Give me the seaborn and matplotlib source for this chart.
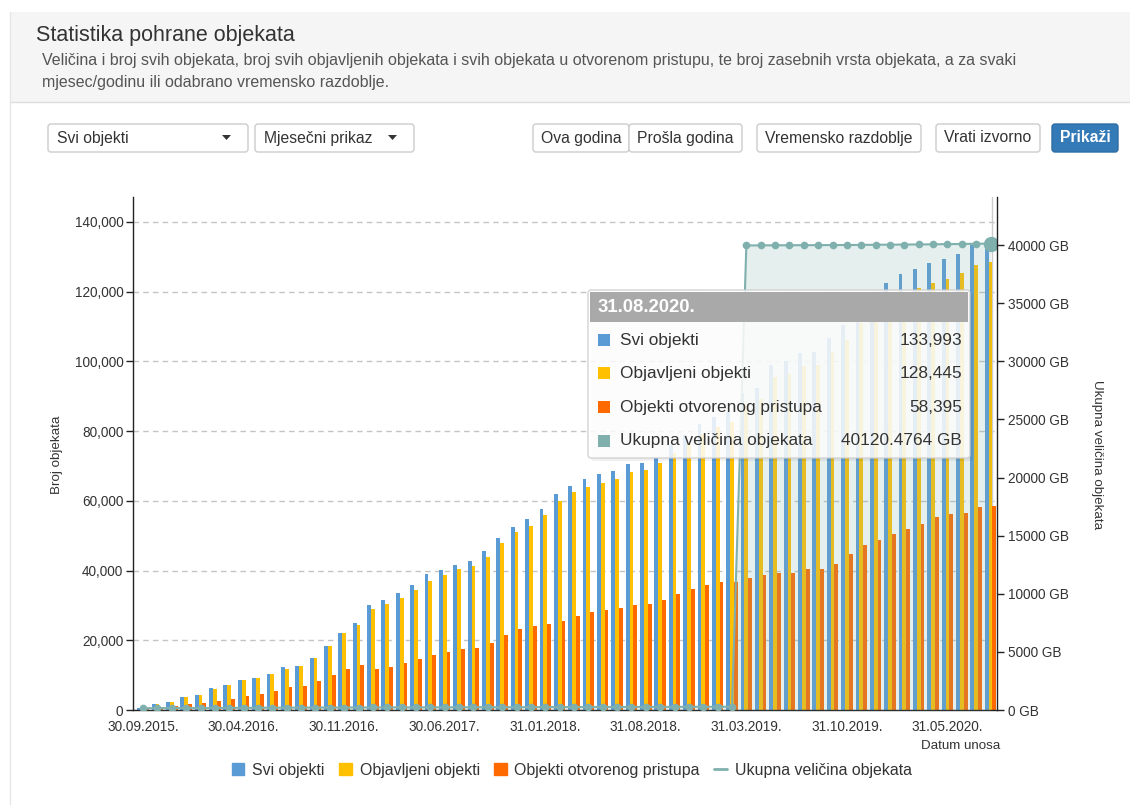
import pandas as pd
import seaborn as sns
import matplotlib.pyplot as plt
from matplotlib.patches import Rectangle, FancyBboxPatch, Polygon, Patch
from matplotlib.lines import Line2D

# podaci ocitani sa slike (mjesecno, 30.09.2015. - 31.08.2020.)
datumi = pd.date_range("2015-09-30", periods=60, freq="ME").strftime("%d.%m.%Y.").tolist()

svi_objekti = [700, 1600, 2400, 3600, 4300, 6200, 7300, 8500, 9200, 10400,
               12300, 12700, 15000, 18400, 22200, 25000, 30100, 31600, 33600, 35900,
               38900, 40100, 41600, 42800, 45500, 49300, 52400, 54700, 57800, 62000,
               64300, 66200, 67800, 68500, 70500, 70800, 72400, 76000, 79000, 82000,
               84000, 85500, 91000, 92400, 99000, 100000, 102400, 102800, 106700, 110500,
               115600, 118200, 122500, 125100, 126600, 128200, 129400, 130900, 133400, 133993]

objavljeni = [500, 1600, 2400, 3600, 4300, 6100, 7300, 8500, 9200, 10400,
              11900, 12600, 15000, 18300, 22100, 24500, 29000, 30500, 32000, 34300,
              37000, 38600, 40500, 41200, 43900, 47800, 51200, 52800, 55800, 60100,
              62400, 63900, 65100, 66200, 68200, 68900, 70800, 73800, 76500, 79300,
              81200, 82600, 87800, 89200, 95400, 96300, 98600, 99000, 102600, 106200,
              111000, 113600, 117500, 119800, 121200, 122500, 123700, 125300, 127700, 128445]

otvoreni = [300, 800, 1200, 1600, 2000, 2700, 3100, 3900, 4600, 5400,
            6500, 6900, 8400, 10000, 11900, 13000, 11700, 12400, 13600, 14700,
            15900, 16700, 17400, 17800, 19300, 21600, 23200, 24000, 24700, 25500,
            27000, 28100, 28600, 29300, 30100, 30500, 31600, 33200, 34700, 35900,
            36600, 36600, 37800, 38600, 39300, 39300, 40500, 40500, 42000, 44700,
            47400, 48900, 50500, 52000, 53500, 55400, 56200, 56600, 58100, 58395]

velicina_gb = [150, 160, 165, 170, 175, 180, 185, 190, 195, 200,
               205, 205, 210, 210, 215, 215, 220, 220, 225, 225,
               230, 230, 235, 235, 240, 240, 245, 245, 250, 250,
               255, 255, 260, 260, 265, 265, 270, 270, 275, 275,
               280, 280, 39960, 39970, 39975, 39980, 39985, 39990, 39995, 40000,
               40010, 40020, 40030, 40040, 40050, 40060, 40075, 40090, 40105, 40120.4764]

serije = ["Svi objekti", "Objavljeni objekti", "Objekti otvorenog pristupa"]
boje = ["#5b9bd5", "#ffc000", "#ff6a00"]
serija_velicina = "Ukupna veličina objekata"
boja_velicina = "#7fb0ad"

y_ticks = [0, 20000, 40000, 60000, 80000, 100000, 120000, 140000]
y_tick_labels = ["0", "20,000", "40,000", "60,000", "80,000", "100,000", "120,000", "140,000"]
gb_ticks = [0, 5000, 10000, 15000, 20000, 25000, 30000, 35000, 40000]
gb_tick_labels = [f"{v} GB" for v in gb_ticks]
oznaceni = [0, 7, 14, 21, 28, 35, 42, 49, 56]

df = pd.DataFrame({
    "datum": datumi * 3,
    "serija": [s for s in serije for _ in datumi],
    "broj": svi_objekti + objavljeni + otvoreni,
})

sns.set_theme(style="white")
plt.rcParams["font.family"] = ["Liberation Sans", "DejaVu Sans"]

W, H = 1130, 805
fig = plt.figure(figsize=(W / 100, H / 100), dpi=100)
fig.patch.set_facecolor("white")

# pozadina (zaglavlje i kontrole) u pikselima
bg = fig.add_axes([0, 0, 1, 1])
bg.set_xlim(0, W)
bg.set_ylim(H, 0)
bg.axis("off")
bg.set_zorder(-1)

bg.add_patch(Rectangle((10, 12), W, 90, fc="#f5f5f5", ec="none"))
bg.plot([10, W], [102, 102], color="#dddddd", lw=1)
bg.plot([10, 10], [12, H], color="#e6e6e6", lw=1)
bg.text(36, 35, "Statistika pohrane objekata", fontsize=15.5, color="#333333", va="center")
bg.text(42, 60, "Veličina i broj svih objekata, broj svih objavljenih objekata i svih objekata u otvorenom "
        "pristupu, te broj zasebnih vrsta objekata, a za svaki", fontsize=11.5, color="#555555", va="center")
bg.text(42, 82, "mjesec/godinu ili odabrano vremensko razdoblje.", fontsize=11.5, color="#555555", va="center")


def gumb(x0, x1, tekst, fc="white", ec="#cccccc", tc="#333333", lijevo=False, strelica=False):
    bg.add_patch(FancyBboxPatch((x0, 124), x1 - x0, 28, boxstyle="round,pad=0,rounding_size=3",
                                fc=fc, ec=ec, lw=1))
    if lijevo:
        bg.text(x0 + 9, 138, tekst, fontsize=11.3, color=tc, va="center")
    else:
        bg.text((x0 + x1) / 2, 138, tekst, fontsize=11.3, color=tc, va="center", ha="center",
                fontweight="bold" if fc != "white" else "normal")
    if strelica:
        bg.add_patch(Polygon([(x1 - 26, 135), (x1 - 17, 135), (x1 - 21.5, 140)], closed=True,
                             fc="#333333", ec="none"))


gumb(48, 248, "Svi objekti", lijevo=True, strelica=True)
gumb(255, 414, "Mjesečni prikaz", lijevo=True, strelica=True)
gumb(533, 629, "Ova godina")
gumb(629, 742, "Prošla godina")
gumb(757, 921, "Vremensko razdoblje")
gumb(936, 1040, "Vrati izvorno")
gumb(1052, 1118, "Prikaži", fc="#337ab7", ec="#2e6da4", tc="white")

# glavni graf
ax = fig.add_axes([133 / W, (H - 710) / H, 864 / W, 513 / H])
sns.barplot(data=df, x="datum", y="broj", hue="serija", hue_order=serije, palette=boje,
            width=0.8, saturation=1, errorbar=None, legend=False, ax=ax, zorder=2,
            linewidth=0, edgecolor="none")
ax.set_xlim(-0.7, 59.45)
ax.set_ylim(0, 147170)
ax.set_yticks(y_ticks)
ax.set_yticklabels(y_tick_labels)
ax.set_xticks(range(len(datumi)))
ax.set_xticklabels([d if i in oznaceni else "" for i, d in enumerate(datumi)])
ax.set_xlabel("")
ax.set_ylabel("")
ax.yaxis.grid(True, linestyle=(0, (4, 3)), color="#c4c4c4", lw=1)
ax.set_axisbelow(True)
ax.axvline(59.1, color="#cccccc", lw=1, zorder=1)
for s in ["top", "right"]:
    ax.spines[s].set_visible(False)
for s in ["left", "bottom"]:
    ax.spines[s].set_color("#222222")
    ax.spines[s].set_linewidth(1)
ax.tick_params(axis="both", direction="out", length=5, width=1, color="#222222",
               labelsize=9.8, labelcolor="#333333", pad=2)

ax2 = ax.twinx()
x = list(range(len(velicina_gb)))
ax2.fill_between(x, velicina_gb, color=boja_velicina, alpha=0.2, lw=0)
ax2.plot(x, velicina_gb, color=boja_velicina, lw=1.5, marker="o", ms=4.5)
ax2.plot(x[-1:], velicina_gb[-1:], color=boja_velicina, marker="o", ms=10, lw=0)
ax2.set_ylim(0, 44130)
ax2.set_yticks(gb_ticks)
ax2.set_yticklabels(gb_tick_labels)
for s in ["top", "left", "bottom"]:
    ax2.spines[s].set_visible(False)
ax2.spines["right"].set_color("#222222")
ax2.spines["right"].set_linewidth(1)
ax2.tick_params(axis="y", direction="out", length=5, width=1, color="#222222",
                labelsize=9.8, labelcolor="#333333", pad=3)

bg.text(57, 455, "Broj objekata", rotation=90, fontsize=9.6, color="#333333", ha="center", va="center")
bg.text(1097, 455, serija_velicina, rotation=270, fontsize=9.6, color="#333333", ha="center", va="center")
bg.text(1000, 746, "Datum unosa", fontsize=9.6, color="#333333", ha="right", va="center")

# tooltip
fg = fig.add_axes([0, 0, 1, 1])
fg.set_xlim(0, W)
fg.set_ylim(H, 0)
fg.axis("off")
fg.set_zorder(10)
fg.add_patch(FancyBboxPatch((591, 293), 382, 168, boxstyle="round,pad=0,rounding_size=3",
                            fc="#000000", ec="none", alpha=0.06))
fg.add_patch(FancyBboxPatch((588, 290), 382, 168, boxstyle="round,pad=0,rounding_size=3",
                            fc="white", ec="#cccccc", lw=1, alpha=0.85))
fg.add_patch(Rectangle((590, 292), 378, 30, fc="#a9a9a9", ec="none"))
fg.text(598, 307, datumi[-1], fontsize=13.3, color="white", fontweight="bold", va="center")
redovi = [
    (serije[0], boje[0], f"{svi_objekti[-1]:,}"),
    (serije[1], boje[1], f"{objavljeni[-1]:,}"),
    (serije[2], boje[2], f"{otvoreni[-1]:,}"),
    (serija_velicina, boja_velicina, f"{velicina_gb[-1]:.4f} GB"),
]
for k, (naziv, boja, vrijednost) in enumerate(redovi):
    yy = 340 + k * 33.5
    fg.add_patch(Rectangle((598, yy - 6), 12, 12, fc=boja, ec="none"))
    fg.text(620, yy, naziv, fontsize=12.4, color="#333333", va="center")
    fg.text(962, yy, vrijednost, fontsize=12.4, color="#333333", va="center", ha="right")

# legenda
rucke = [Patch(color=b) for b in boje] + [Line2D([0], [0], color=boja_velicina, lw=2)]
fig.legend(rucke, serije + [serija_velicina], loc="center", bbox_to_anchor=(0.506, (H - 770) / H),
           ncol=4, frameon=False, fontsize=11.4, handlelength=0.8, handleheight=0.8,
           columnspacing=0.9, handletextpad=0.5, labelcolor="#333333")

fig.savefig("out.png", dpi=100)
